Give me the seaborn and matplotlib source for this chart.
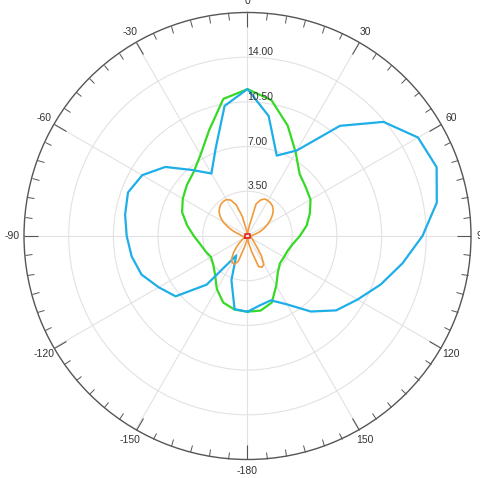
import numpy as np
import pandas as pd
import matplotlib
matplotlib.use("Agg")
import matplotlib.pyplot as plt
import seaborn as sns

# ---- data (degrees, clockwise from top) ----
blue_deg = list(range(-180, 181, 10))
blue_r = [5.93, 5.82, 3.68, 1.76, 4.97, 7.35, 8.03, 8.83, 9.21, 9.46,
          9.73, 9.96, 9.52, 8.41, 6.75, 5.65, 7.29, 10.34, 11.51,
          9.54, 6.70, 7.74, 11.26, 13.90, 15.42, 15.76, 15.05, 13.70,
          12.32, 11.10, 9.95, 9.06, 7.72, 6.18, 5.36, 5.52, 5.93]

green_deg = list(range(-180, 181, 10))
green_r = [5.93, 5.85, 5.55, 4.80, 3.95, 3.50, 3.30, 3.50, 3.75, 4.20,
           4.80, 5.45, 5.85, 6.20, 6.55, 7.35, 8.80, 10.90, 11.50,
           10.80, 9.20, 7.55, 6.35, 5.95, 5.70, 5.20, 4.70, 4.10,
           3.60, 3.35, 3.30, 3.32, 3.70, 4.50, 5.55, 5.93, 5.93]

orange_deg = list(range(-180, 181, 5))
orange_r = [0.20, 0.30, 0.45, 0.90, 2.10, 2.45, 2.40, 2.15, 1.70, 1.20,
            0.80, 0.50, 0.35, 0.30, 0.30, 0.30, 0.30, 0.35, 0.40, 0.50,
            0.60, 0.85, 1.25, 1.70, 2.20, 2.60, 2.90, 3.10, 3.25, 3.30,
            3.30, 3.10, 2.60, 1.60, 0.50, 0.25, 0.20, 0.30, 0.80, 2.60,
            3.00, 3.20, 3.20, 3.15, 3.05, 2.85, 2.55, 2.20, 1.80, 1.45,
            1.10, 0.70, 0.45, 0.35, 0.30, 0.30, 0.30, 0.30, 0.30, 0.35,
            0.40, 0.50, 0.60, 0.80, 1.15, 1.90, 2.55, 2.70, 2.55, 1.30,
            0.60, 0.30, 0.20]

red_deg = [-135, -45, 45, 135, 225]
red_r = [0.25, 0.25, 0.25, 0.25, 0.25]

r_ticks = [3.5, 7.0, 10.5, 14.0]
r_tick_labels = ["3.50", "7.00", "10.50", "14.00"]
r_max = 17.5

theta_tick_deg = list(range(0, 360, 30))
theta_tick_labels = ["0", "30", "60", "90", "120", "150",
                     "-180", "-150", "-120", "-90", "-60", "-30"]

# ---- figure ----
plt.rcParams["font.family"] = ["Liberation Sans", "DejaVu Sans"]

fig = plt.figure(figsize=(4.81, 4.78), dpi=100)
ax = fig.add_axes([24 / 481, 18.5 / 478, 447 / 481, 447 / 478], projection="polar")
ax.set_theta_zero_location("N")
ax.set_theta_direction(-1)


def frame(deg, r):
    return pd.DataFrame({"theta": np.deg2rad(np.array(deg, dtype=float)),
                         "r": np.array(r, dtype=float)})


sns.lineplot(data=frame(green_deg, green_r), x="theta", y="r", sort=False,
             estimator=None, color="#36d926", lw=1.6, ax=ax)
sns.lineplot(data=frame(blue_deg, blue_r), x="theta", y="r", sort=False,
             estimator=None, color="#1eaee8", lw=1.6, ax=ax)
sns.lineplot(data=frame(orange_deg, orange_r), x="theta", y="r", sort=False,
             estimator=None, color="#f09a3a", lw=1.2, ax=ax)
sns.lineplot(data=frame(red_deg, red_r), x="theta", y="r", sort=False,
             estimator=None, color="#e02222", lw=1.2, ax=ax)

ax.set_xlabel("")
ax.set_ylabel("")
ax.set_ylim(0, r_max)
ax.set_yticks(r_ticks)
ax.set_yticklabels([])
for r, lab in zip(r_ticks, r_tick_labels):
    ax.text(0.0, r, lab, ha="left", va="bottom", fontsize=7.5, color="#333333",
            zorder=5)

ax.set_xticks(np.deg2rad(theta_tick_deg))
ax.set_xticklabels(theta_tick_labels)
ax.set_xticks(np.deg2rad(np.arange(0, 360, 5)), minor=True)
ax.tick_params(axis="x", which="both", bottom=False, top=True,
               labelbottom=True, labeltop=False)
ax.tick_params(axis="x", which="major", direction="in", length=10, width=0.8,
               color="#555555", pad=1.5, labelsize=7.5, labelcolor="#333333")
ax.tick_params(axis="x", which="minor", direction="in", length=5, width=0.7,
               color="#555555")
ax.tick_params(axis="y", which="both", length=0)
ax.grid(True, color="#e2e2e2", lw=0.8)
ax.spines["polar"].set_color("#555555")
ax.spines["polar"].set_linewidth(1.0)

fig.savefig("out.png", dpi=100)
